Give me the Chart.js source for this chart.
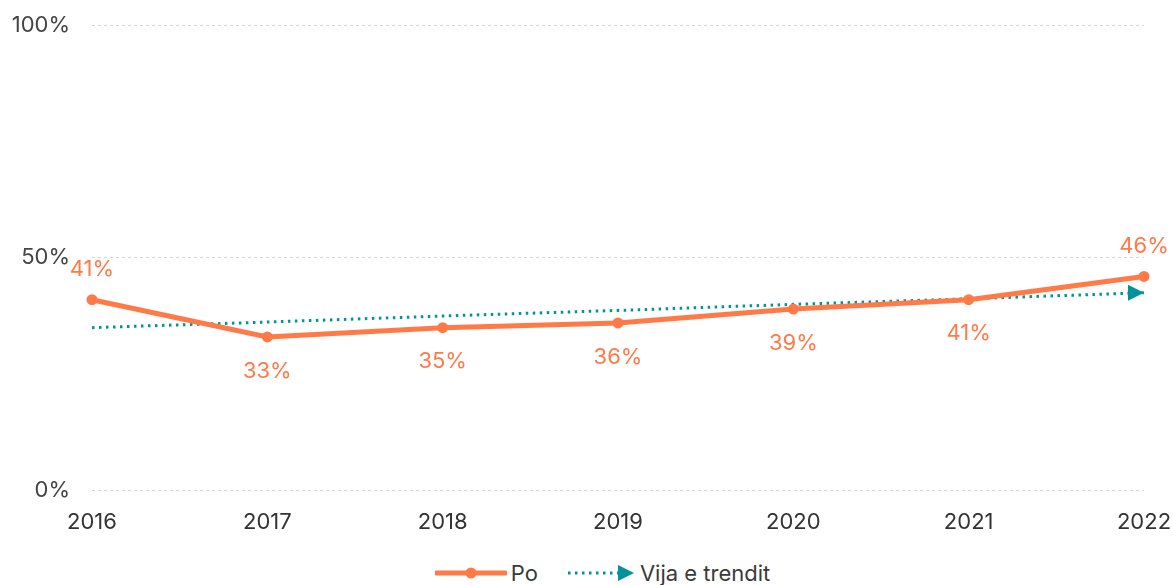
<!DOCTYPE html>
<html>
<head>
<meta charset="utf-8">
<script src="https://cdn.jsdelivr.net/npm/chart.js@4.4.1/dist/chart.umd.min.js"></script>
<style>
  html, body { margin: 0; padding: 0; background: #fff; }
  body { position: relative; width: 1173px; height: 585px; overflow: hidden; font-family: Inter, "Noto Sans", sans-serif; }
  #wrap { position: absolute; left: 0; top: 0; width: 1173px; height: 555px; }
  #legend {
    position: absolute; left: 0; top: 559px; width: 1173px; height: 28px;
    display: flex; justify-content: center; align-items: center;
    gap: 28px; padding-left: 32px; box-sizing: border-box;
    font-size: 22px; color: #3a3a3a;
  }
  .lg-item { display: flex; align-items: center; gap: 4px; }
</style>
</head>
<body>
<div id="wrap"><canvas id="chart"></canvas></div>
<div id="legend">
  <div class="lg-item">
    <svg width="72" height="14"><line x1="1" y1="7" x2="71" y2="7" stroke="#ff7a47" stroke-width="5" stroke-linecap="round"/><circle cx="36" cy="7" r="5.5" fill="#ff7a47"/></svg>
    <span>Po</span>
  </div>
  <div class="lg-item">
    <svg width="70" height="18"><line x1="2" y1="9" x2="52" y2="9" stroke="#00939c" stroke-width="3" stroke-dasharray="2.5 4.5"/><polygon points="52,1 68,9 52,17" fill="#00939c"/></svg>
    <span>Vija e trendit</span>
  </div>
</div>
<script>
// share of "Po" answers per year, plus the fitted trend
const YEARS = ["2016", "2017", "2018", "2019", "2020", "2021", "2022"];
const PO_VALUES = [41, 33, 35, 36, 39, 41, 46];
const TREND_VALUES = [35.0, 36.2, 37.5, 38.7, 40.0, 41.2, 42.5];
const Y_TICKS = [0, 50, 100];
// which value labels sit above the point (others go below)
const LABEL_ABOVE = [true, false, false, false, false, false, true];

const ORANGE = "#ff7a47";
const TEAL = "#00939c";
const FONT = "Inter, 'Noto Sans', sans-serif";

// value labels next to the "Po" points
const valueLabels = {
  id: "valueLabels",
  afterDatasetsDraw(chart) {
    const { ctx } = chart;
    const meta = chart.getDatasetMeta(0);
    ctx.save();
    ctx.font = `22px ${FONT}`;
    ctx.fillStyle = ORANGE;
    ctx.textAlign = "center";
    ctx.textBaseline = "middle";
    meta.data.forEach((pt, i) => {
      const dy = LABEL_ABOVE[i] ? -30 : 34;
      ctx.fillText(`${PO_VALUES[i]}%`, pt.x, pt.y + dy);
    });
    ctx.restore();
  },
};

// arrow head at the end of the trend line
const trendArrow = {
  id: "trendArrow",
  afterDatasetsDraw(chart) {
    const { ctx } = chart;
    const pts = chart.getDatasetMeta(1).data;
    const end = pts[pts.length - 1];
    ctx.save();
    ctx.fillStyle = TEAL;
    ctx.beginPath();
    ctx.moveTo(end.x, end.y);
    ctx.lineTo(end.x - 16, end.y - 8);
    ctx.lineTo(end.x - 16, end.y + 8);
    ctx.closePath();
    ctx.fill();
    ctx.restore();
  },
};

new Chart(document.getElementById("chart"), {
  type: "line",
  data: {
    labels: YEARS,
    datasets: [
      {
        label: "Po",
        data: PO_VALUES,
        borderColor: ORANGE,
        backgroundColor: ORANGE,
        borderWidth: 5,
        pointRadius: 5.5,
        pointHoverRadius: 5.5,
        pointBorderWidth: 0,
        tension: 0,
        clip: false,
        order: 1,
      },
      {
        label: "Vija e trendit",
        data: TREND_VALUES,
        borderColor: TEAL,
        borderWidth: 3,
        borderDash: [2.5, 4.5],
        pointRadius: 0,
        tension: 0,
        clip: false,
        order: 2,
      },
    ],
  },
  options: {
    responsive: true,
    maintainAspectRatio: false,
    animation: false,
    layout: { padding: { top: 25, right: 29, left: 0, bottom: 0 } },
    plugins: {
      legend: { display: false },
      tooltip: { enabled: false },
    },
    scales: {
      x: {
        grid: { display: false, drawTicks: false },
        border: { display: false },
        ticks: { color: "#333", font: { family: FONT, size: 22 }, padding: 19, maxRotation: 0 },
        afterFit: (s) => { s.paddingLeft = 0; s.paddingRight = 0; },
      },
      y: {
        min: 0,
        max: 100,
        afterBuildTicks: (axis) => { axis.ticks = Y_TICKS.map((v) => ({ value: v })); },
        afterFit: (s) => { s.width = 92; s.paddingTop = 0; s.paddingBottom = 0; },
        grid: { color: "#d6d6d6", lineWidth: 1, drawTicks: false },
        border: { display: false, dash: [3, 3] },
        ticks: {
          color: "#444",
          font: { family: FONT, size: 22 },
          padding: 22,
          callback: (v) => `${v}%`,
        },
      },
    },
  },
  plugins: [valueLabels, trendArrow],
});
</script>
</body>
</html>
